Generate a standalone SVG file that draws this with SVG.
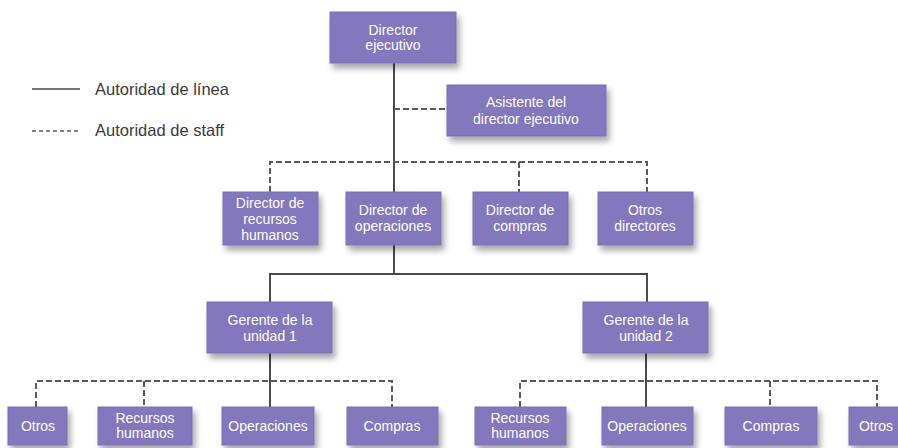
<svg xmlns="http://www.w3.org/2000/svg" width="898" height="448" viewBox="0 0 898 448">
<defs>
<filter id="sh" x="-20%" y="-20%" width="150%" height="160%">
<feGaussianBlur in="SourceAlpha" stdDeviation="3"/>
<feOffset dx="3" dy="5" result="b"/>
<feComponentTransfer><feFuncA type="linear" slope="0.35"/></feComponentTransfer>
<feMerge><feMergeNode/><feMergeNode in="SourceGraphic"/></feMerge>
</filter>
</defs>
<style>
.box{fill:#8377bd;stroke:#7a6eb4;stroke-width:1;filter:url(#sh)}
.t{font-family:"Liberation Sans",Arial,sans-serif;font-size:14px;fill:#ffffff;text-anchor:middle}
.lg{font-family:"Liberation Sans",Arial,sans-serif;font-size:16.5px;fill:#3a3a3a}
.solid{stroke:#4a4a4a;stroke-width:2;fill:none}
.dash{stroke:#5a5a5a;stroke-width:2;fill:none;stroke-dasharray:6,3}
</style>
<rect width="898" height="448" fill="#ffffff"/>
<g id="legend">
<line x1="32" y1="89" x2="80" y2="89" class="solid" style="stroke-width:1.5"/>
<text x="95" y="95" class="lg">Autoridad de línea</text>
<line x1="32" y1="131" x2="80" y2="131" class="dash" style="stroke-width:1.5;stroke-dasharray:4,3"/>
<text x="95" y="136" class="lg">Autoridad de staff</text>
</g>
<g id="connectors">
<path class="solid" d="M394 63 V192"/>
<path class="dash" d="M394 109 H447"/>
<path class="dash" d="M270 192 V162 H647 V192 M519 162 V192"/>
<path class="solid" d="M394 245 V274 M270 302 V274 H647 V302"/>
<path class="solid" d="M270 353 V407"/>
<path class="dash" d="M36 407 V381 H392 V407 M144 381 V407"/>
<path class="solid" d="M646 353 V407"/>
<path class="dash" d="M520 407 V381 H877 V407 M770 381 V407"/>
</g>
<g id="n-director-ejecutivo">
<rect class="box" x="330" y="12" width="126" height="51"/>
<text class="t" x="393" y="35">Director<tspan x="393" dy="15">ejecutivo</tspan></text>
</g>
<g id="n-asistente">
<rect class="box" x="447" y="85" width="159" height="51"/>
<text class="t" x="526" y="107">Asistente del<tspan x="526" dy="17">director ejecutivo</tspan></text>
</g>
<g id="n-dir-rrhh">
<rect class="box" x="223" y="192" width="95" height="53"/>
<text class="t" x="270" y="208">Director de<tspan x="270" dy="16">recursos</tspan><tspan x="270" dy="16">humanos</tspan></text>
</g>
<g id="n-dir-operaciones">
<rect class="box" x="346" y="192" width="95" height="53"/>
<text class="t" x="393" y="215">Director de<tspan x="393" dy="16">operaciones</tspan></text>
</g>
<g id="n-dir-compras">
<rect class="box" x="473" y="192" width="95" height="53"/>
<text class="t" x="520" y="215">Director de<tspan x="520" dy="16">compras</tspan></text>
</g>
<g id="n-otros-directores">
<rect class="box" x="598" y="192" width="95" height="53"/>
<text class="t" x="645" y="215">Otros<tspan x="645" dy="16">directores</tspan></text>
</g>
<g id="n-gerente-1">
<rect class="box" x="207" y="302" width="125" height="51"/>
<text class="t" x="270" y="325">Gerente de la<tspan x="270" dy="16">unidad 1</tspan></text>
</g>
<g id="n-gerente-2">
<rect class="box" x="583" y="302" width="125" height="51"/>
<text class="t" x="646" y="325">Gerente de la<tspan x="646" dy="16">unidad 2</tspan></text>
</g>
<g id="n-u1-otros">
<rect class="box" x="8" y="407" width="59" height="38"/>
<text class="t" x="38" y="431">Otros</text>
</g>
<g id="n-u1-rrhh">
<rect class="box" x="98" y="407" width="94" height="38"/>
<text class="t" x="145" y="423">Recursos<tspan x="145" dy="15">humanos</tspan></text>
</g>
<g id="n-u1-operaciones">
<rect class="box" x="222" y="407" width="92" height="38"/>
<text class="t" x="268" y="431">Operaciones</text>
</g>
<g id="n-u1-compras">
<rect class="box" x="347" y="407" width="91" height="38"/>
<text class="t" x="392" y="431">Compras</text>
</g>
<g id="n-u2-rrhh">
<rect class="box" x="475" y="407" width="91" height="38"/>
<text class="t" x="520" y="423">Recursos<tspan x="520" dy="15">humanos</tspan></text>
</g>
<g id="n-u2-operaciones">
<rect class="box" x="602" y="407" width="91" height="38"/>
<text class="t" x="647" y="431">Operaciones</text>
</g>
<g id="n-u2-compras">
<rect class="box" x="725" y="407" width="92" height="38"/>
<text class="t" x="771" y="431">Compras</text>
</g>
<g id="n-u2-otros">
<rect class="box" x="849" y="407" width="58" height="38"/>
<text class="t" x="876" y="431">Otros</text>
</g>
</svg>
